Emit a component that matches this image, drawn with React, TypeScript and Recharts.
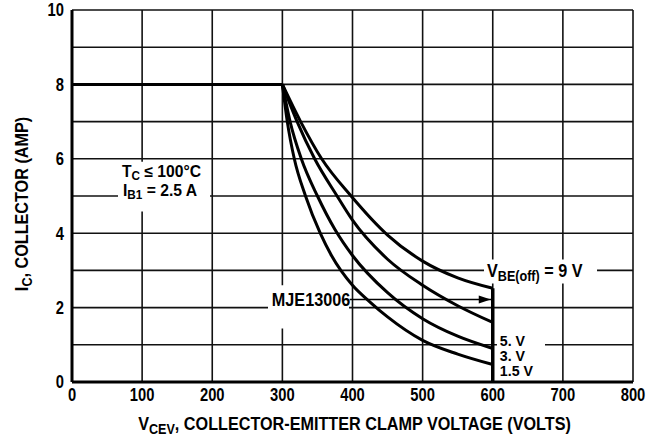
import { LineChart, Line, XAxis, YAxis, CartesianGrid, ReferenceDot, ReferenceArea } from "recharts";

const FONT = "'Liberation Sans', Arial, sans-serif";

// axis ticks
const voltTicks = [0, 100, 200, 300, 400, 500, 600, 700, 800];
const ampTicks = [0, 1, 2, 3, 4, 5, 6, 7, 8, 9, 10];

// safe operating limit curves (V_CEV in volts, I_C in amps)
const flatX = [0, 300];
const flatI = [8, 8];
const vbe9X = [300, 326, 356, 398, 450, 500, 550, 600];
const vbe9I = [8, 7, 6, 5, 3.95, 3.25, 2.8, 2.52];
const vbe5X = [300, 321, 346, 378, 400, 450, 500, 550, 600];
const vbe5I = [8, 7, 6, 5, 4.35, 3.3, 2.6, 2.05, 1.6];
const vbe3X = [300, 311, 327, 350, 375, 400, 450, 500, 550, 600];
const vbe3I = [8, 7, 6, 5, 4.1, 3.4, 2.4, 1.7, 1.23, 0.9];
const vbe15X = [300, 307, 317, 333, 354, 370, 400, 425, 450, 500, 550, 600];
const vbe15I = [8, 7, 6, 5, 4, 3.4, 2.6, 2.15, 1.75, 1.12, 0.75, 0.47];
const clampX = [600, 600];
const clampI = [0, 2.52];
const arrowX = [396, 600];
const arrowI = [2.22, 2.22];

const pts = (xs: number[], ys: number[]) => xs.map((v, k) => ({ v, i: ys[k] }));

type Run = { t: string; sub?: boolean };

function runsToSpans(runs: Run[], size: number, drop: number) {
  let shift = 0;
  return runs.map((r, k) => {
    const target = r.sub ? drop : 0;
    const dy = target - shift;
    shift = target;
    return (
      <tspan key={k} dy={dy} fontSize={r.sub ? size - 4 : size}>
        {r.t}
      </tspan>
    );
  });
}

function note(runs: Run[], size = 18, drop = 4, sx = 0.9) {
  return ({ viewBox }: any) => (
    <text
      transform={`translate(${viewBox.x} ${viewBox.y}) scale(${sx} 1)`}
      fontFamily={FONT}
      fontWeight="bold"
      fontSize={size}
      fill="#000"
    >
      {runsToSpans(runs, size, drop)}
    </text>
  );
}

const XTitle = ({ viewBox }: any) => (
  <text
    transform={`translate(${viewBox.x + viewBox.width / 2 + 2} 430) scale(0.9 1)`}
    textAnchor="middle"
    fontFamily={FONT}
    fontWeight="bold"
    fontSize={18}
    fill="#000"
  >
    {runsToSpans([{ t: "V" }, { t: "CEV", sub: true }, { t: ", COLLECTOR-EMITTER CLAMP VOLTAGE (VOLTS)" }], 18, 4)}
  </text>
);

const YTitle = ({ viewBox }: any) => {
  const cx = 28;
  const cy = viewBox.y + viewBox.height / 2 + 8;
  return (
    <text
      transform={`translate(${cx} ${cy}) rotate(-90) scale(0.9 1)`}
      textAnchor="middle"
      fontFamily={FONT}
      fontWeight="bold"
      fontSize={18}
      fill="#000"
    >
      {runsToSpans([{ t: "I" }, { t: "C", sub: true }, { t: ", COLLECTOR (AMP)" }], 18, 4)}
    </text>
  );
};

const XTick = ({ x, y, payload }: any) => (
  <text transform={`translate(${x} ${y}) scale(0.82 1)`} dy="0.71em" textAnchor="middle" fontFamily={FONT} fontWeight="bold" fontSize={18} fill="#000">
    {payload.value}
  </text>
);

const YTick = ({ x, y, payload }: any) =>
  payload.value % 2 === 0 ? (
    <text transform={`translate(${x} ${y}) scale(0.82 1)`} dy="0.355em" textAnchor="end" fontFamily={FONT} fontWeight="bold" fontSize={18} fill="#000">
      {payload.value}
    </text>
  ) : (
    <g />
  );

const curve = { type: "monotone" as const, dataKey: "i", stroke: "#000", strokeWidth: 3, dot: false, activeDot: false, isAnimationActive: false };

export default function App() {
  return (
    <div style={{ position: "absolute", left: 0, top: 0, background: "#fff" }}>
      <LineChart width={660} height={440} margin={{ top: 10, right: 27, bottom: 0, left: 0 }}>
        <CartesianGrid stroke="#111" strokeWidth={1.6} />
        <XAxis
          type="number"
          dataKey="v"
          domain={[0, 800]}
          ticks={voltTicks}
          height={58}
          tickLine={false}
          tickSize={4}
          tickMargin={2}
          axisLine={{ stroke: "#000", strokeWidth: 3 }}
          tick={<XTick />}
          label={{ content: XTitle }}
        />
        <YAxis
          type="number"
          dataKey="i"
          domain={[0, 10]}
          ticks={ampTicks}
          interval={0}
          width={72}
          tickLine={false}
          tickSize={6}
          tickMargin={2}
          axisLine={{ stroke: "#000", strokeWidth: 3 }}
          tick={<YTick />}
          label={{ content: YTitle }}
        />
        <ReferenceArea x1={65.6} x2={196.8} y1={4.58} y2={5.92} fill="#fff" fillOpacity={1} stroke="none" />
        <ReferenceArea x1={279.5} x2={395} y1={1.44} y2={2.6} fill="#fff" fillOpacity={1} stroke="none" />
        <ReferenceArea x1={587.5} x2={748.7} y1={2.65} y2={3.29} fill="#fff" fillOpacity={1} stroke="none" />
        <ReferenceArea x1={606} x2={674.5} y1={0.07} y2={1.33} fill="#fff" fillOpacity={1} stroke="none" />

        <Line {...curve} data={pts(flatX, flatI)} type="linear" />
        <Line {...curve} data={pts(vbe9X, vbe9I)} />
        <Line {...curve} data={pts(vbe5X, vbe5I)} />
        <Line {...curve} data={pts(vbe3X, vbe3I)} />
        <Line {...curve} data={pts(vbe15X, vbe15I)} />
        <Line {...curve} data={pts(clampX, clampI)} type="linear" strokeWidth={3.5} />
        <Line
          {...curve}
          data={pts(arrowX, arrowI)}
          type="linear"
          strokeWidth={1.5}
          dot={(p: any) =>
            p.index === arrowX.length - 1 ? (
              <polygon key="head" points={`${p.cx - 2},${p.cy} ${p.cx - 14},${p.cy - 4} ${p.cx - 14},${p.cy + 4}`} fill="#000" />
            ) : (
              <g key={`d${p.index}`} />
            )
          }
        />

        <ReferenceDot x={71.3} y={5.5} r={0} stroke="none" label={{ content: note([{ t: "T" }, { t: "C", sub: true }, { t: " ≤ 100°C" }], 16, 3, 0.98) }} />
        <ReferenceDot x={72.7} y={5.0} r={0} stroke="none" label={{ content: note([{ t: "I" }, { t: "B1", sub: true }, { t: " = 2.5 A" }], 16, 3, 0.98) }} />
        <ReferenceDot x={285} y={2.03} r={0} stroke="none" label={{ content: note([{ t: "MJE13006" }]) }} />
        <ReferenceDot x={591.8} y={2.83} r={0} stroke="none" label={{ content: note([{ t: "V" }, { t: "BE(off)", sub: true }, { t: " = 9 V" }]) }} />
        <ReferenceDot x={610} y={0.97} r={0} stroke="none" label={{ content: note([{ t: "5. V" }], 15, 4, 0.95) }} />
        <ReferenceDot x={610} y={0.56} r={0} stroke="none" label={{ content: note([{ t: "3. V" }], 15, 4, 0.95) }} />
        <ReferenceDot x={610} y={0.15} r={0} stroke="none" label={{ content: note([{ t: "1.5 V" }], 15, 4, 0.95) }} />
      </LineChart>
    </div>
  );
}
